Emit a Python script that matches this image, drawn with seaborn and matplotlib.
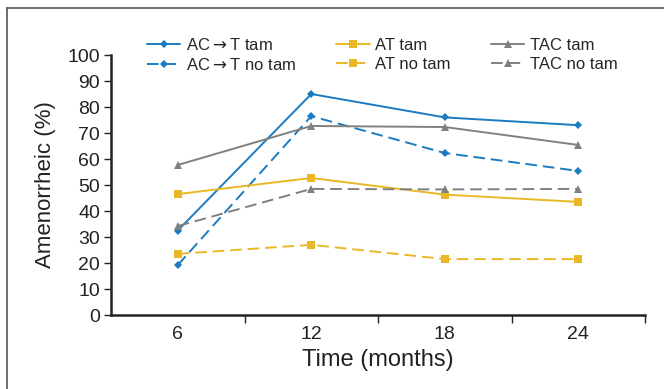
import matplotlib
matplotlib.use("Agg")
import matplotlib.pyplot as plt
import seaborn as sns
import pandas as pd
from matplotlib.lines import Line2D

months = [6, 12, 18, 24]
ac_t_tam = [32.5, 85, 76, 73]
ac_t_no_tam = [19.2, 76.5, 62.3, 55.4]
at_tam = [46.5, 52.7, 46.3, 43.5]
at_no_tam = [23.5, 27, 21.5, 21.5]
tac_tam = [57.7, 72.7, 72.3, 65.4]
tac_no_tam = [34.2, 48.5, 48.3, 48.5]

labels = ["AC$\\rightarrow$T tam", "AC$\\rightarrow$T no tam", "AT tam", "AT no tam", "TAC tam", "TAC no tam"]
series = [ac_t_tam, ac_t_no_tam, at_tam, at_no_tam, tac_tam, tac_no_tam]

sns.set_theme(style="ticks")
plt.rcParams['font.family'] = ['Liberation Sans', 'DejaVu Sans']
plt.rcParams['mathtext.fontset'] = 'dejavusans'

blue = "#1a7bc1"
yellow = "#e9b824"
gray = "#808080"
dash = (0, (6, 3))
styles = [
    (blue, "-", "D", 4), (blue, dash, "D", 4),
    (yellow, "-", "s", 6), (yellow, dash, "s", 6),
    (gray, "-", "^", 6), (gray, dash, "^", 6),
]

fig = plt.figure(figsize=(6.64, 3.89), dpi=100)
ax = fig.add_axes([111/664, 1-315/389, (645-111)/664, (315-55)/389])

for lab, vals, (c, ls, m, ms) in zip(labels, series, styles):
    df = pd.DataFrame({"Time": months, "Value": vals})
    sns.lineplot(data=df, x="Time", y="Value", ax=ax, color=c, linestyle=ls,
                 marker=m, markersize=ms, markeredgewidth=0, linewidth=1.4, label=lab)

ax.set_xlim(3, 27)
ax.set_ylim(0, 100)
ax.set_yticks(range(0, 101, 10))
ax.set_xticks(months)
ax.set_xticks([9, 15, 21, 27], minor=True)
ax.tick_params(axis='x', which='major', length=0, labelsize=14, pad=8, colors='#222222')
ax.tick_params(axis='x', which='minor', length=6, width=1, direction='out', color='#222222')
ax.tick_params(axis='y', length=5, width=1, labelsize=14, pad=3, colors='#222222')
for s in ["top", "right"]:
    ax.spines[s].set_visible(False)
for s in ["left", "bottom"]:
    ax.spines[s].set_linewidth(1.8)
    ax.spines[s].set_color('#222222')
ax.set_xlabel("Time (months)", fontsize=17, color='#222222', labelpad=4)
ax.set_ylabel("Amenorrheic (%)", fontsize=16, color='#222222', labelpad=8)

handles, labs = ax.get_legend_handles_labels()
ax.legend(handles, labs, ncol=3, loc='lower left', bbox_to_anchor=(0.055, 0.905),
          frameon=False, fontsize=12, handlelength=2.0, columnspacing=2.4,
          handletextpad=0.35, labelspacing=0.25, borderaxespad=0)

fig.add_artist(Line2D([7/664, 7/664], [0, 1-8/389], color='#555555', lw=1.2, transform=fig.transFigure))
fig.add_artist(Line2D([7/664, 1], [1-8/389, 1-8/389], color='#555555', lw=1.2, transform=fig.transFigure))

fig.savefig("out.png", dpi=100)
